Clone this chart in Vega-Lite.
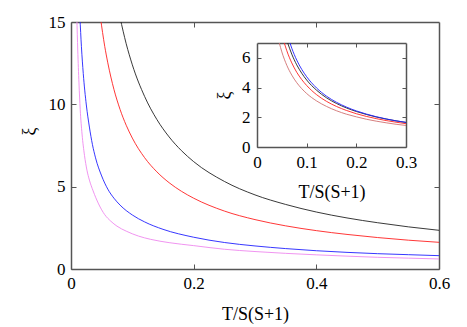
{
  "$schema": "https://vega.github.io/schema/vega-lite/v6.json",
  "width": 368,
  "height": 247,
  "autosize": {"type": "none"},
  "padding": {"left": 71, "top": 22, "right": 28, "bottom": 58},
  "background": "white",
  "config": {
    "view": {"stroke": null},
    "font": "Liberation Serif",
    "axis": {
      "grid": false,
      "domainColor": "#555555",
      "domainWidth": 1.5,
      "tickColor": "#555555",
      "tickWidth": 1,
      "labelFont": "Liberation Serif",
      "titleFont": "Liberation Serif",
      "labelFontSize": 17,
      "titleFontSize": 18,
      "labelColor": "#000000",
      "titleColor": "#000000",
      "titleFontWeight": "normal",
      "labelFlush": false,
      "labelOverlap": false
    }
  },
  "datasets": {
    "main": [
      {"s": "k", "T": 0.08, "xi": 15.26}, {"s": "k", "T": 0.09, "xi": 13.68}, {"s": "k", "T": 0.10, "xi": 12.40}, {"s": "k", "T": 0.12, "xi": 10.48}, {"s": "k", "T": 0.14, "xi": 9.08}, {"s": "k", "T": 0.16, "xi": 8.02}, {"s": "k", "T": 0.18, "xi": 7.19}, {"s": "k", "T": 0.20, "xi": 6.52}, {"s": "k", "T": 0.25, "xi": 5.32}, {"s": "k", "T": 0.30, "xi": 4.50}, {"s": "k", "T": 0.35, "xi": 3.92}, {"s": "k", "T": 0.40, "xi": 3.46}, {"s": "k", "T": 0.45, "xi": 3.10}, {"s": "k", "T": 0.50, "xi": 2.81}, {"s": "k", "T": 0.55, "xi": 2.56}, {"s": "k", "T": 0.60, "xi": 2.35},
      {"s": "r", "T": 0.048, "xi": 15.27}, {"s": "r", "T": 0.055, "xi": 13.52}, {"s": "r", "T": 0.06, "xi": 12.52}, {"s": "r", "T": 0.07, "xi": 10.91}, {"s": "r", "T": 0.08, "xi": 9.69}, {"s": "r", "T": 0.09, "xi": 8.73}, {"s": "r", "T": 0.10, "xi": 7.95}, {"s": "r", "T": 0.12, "xi": 6.76}, {"s": "r", "T": 0.14, "xi": 5.90}, {"s": "r", "T": 0.16, "xi": 5.24}, {"s": "r", "T": 0.18, "xi": 4.72}, {"s": "r", "T": 0.20, "xi": 4.30}, {"s": "r", "T": 0.25, "xi": 3.52}, {"s": "r", "T": 0.30, "xi": 3.00}, {"s": "r", "T": 0.35, "xi": 2.62}, {"s": "r", "T": 0.40, "xi": 2.33}, {"s": "r", "T": 0.45, "xi": 2.10}, {"s": "r", "T": 0.50, "xi": 1.91}, {"s": "r", "T": 0.55, "xi": 1.75}, {"s": "r", "T": 0.60, "xi": 1.62},
      {"s": "b", "T": 0.0145, "xi": 15.31}, {"s": "b", "T": 0.017, "xi": 13.50}, {"s": "b", "T": 0.02, "xi": 11.87}, {"s": "b", "T": 0.025, "xi": 9.96}, {"s": "b", "T": 0.03, "xi": 8.62}, {"s": "b", "T": 0.035, "xi": 7.55}, {"s": "b", "T": 0.04, "xi": 6.75}, {"s": "b", "T": 0.05, "xi": 5.65}, {"s": "b", "T": 0.06, "xi": 4.85}, {"s": "b", "T": 0.07, "xi": 4.30}, {"s": "b", "T": 0.08, "xi": 3.88}, {"s": "b", "T": 0.10, "xi": 3.28}, {"s": "b", "T": 0.12, "xi": 2.86}, {"s": "b", "T": 0.15, "xi": 2.41}, {"s": "b", "T": 0.20, "xi": 1.93}, {"s": "b", "T": 0.25, "xi": 1.61}, {"s": "b", "T": 0.30, "xi": 1.40}, {"s": "b", "T": 0.35, "xi": 1.24}, {"s": "b", "T": 0.40, "xi": 1.11}, {"s": "b", "T": 0.45, "xi": 1.01}, {"s": "b", "T": 0.50, "xi": 0.93}, {"s": "b", "T": 0.55, "xi": 0.87}, {"s": "b", "T": 0.60, "xi": 0.81},
      {"s": "v", "T": 0.0095, "xi": 15.3}, {"s": "v", "T": 0.011, "xi": 13.3}, {"s": "v", "T": 0.013, "xi": 11.3}, {"s": "v", "T": 0.015, "xi": 9.7}, {"s": "v", "T": 0.018, "xi": 8.2}, {"s": "v", "T": 0.022, "xi": 6.9}, {"s": "v", "T": 0.026, "xi": 6.0}, {"s": "v", "T": 0.03, "xi": 5.4}, {"s": "v", "T": 0.036, "xi": 4.75}, {"s": "v", "T": 0.045, "xi": 3.95}, {"s": "v", "T": 0.055, "xi": 3.3}, {"s": "v", "T": 0.065, "xi": 2.9}, {"s": "v", "T": 0.075, "xi": 2.6}, {"s": "v", "T": 0.09, "xi": 2.3}, {"s": "v", "T": 0.11, "xi": 2.0}, {"s": "v", "T": 0.13, "xi": 1.8}, {"s": "v", "T": 0.16, "xi": 1.6}, {"s": "v", "T": 0.20, "xi": 1.42}, {"s": "v", "T": 0.25, "xi": 1.2}, {"s": "v", "T": 0.30, "xi": 1.06}, {"s": "v", "T": 0.35, "xi": 0.95}, {"s": "v", "T": 0.40, "xi": 0.86}, {"s": "v", "T": 0.45, "xi": 0.78}, {"s": "v", "T": 0.50, "xi": 0.71}, {"s": "v", "T": 0.55, "xi": 0.66}, {"s": "v", "T": 0.60, "xi": 0.61}
    ],
    "inset": [
      {"s": "in", "T": 0.0449, "xi": 7}, {"s": "in", "T": 0.05, "xi": 6.40}, {"s": "in", "T": 0.06, "xi": 5.50}, {"s": "in", "T": 0.07, "xi": 4.84}, {"s": "in", "T": 0.08, "xi": 4.33}, {"s": "in", "T": 0.09, "xi": 3.93}, {"s": "in", "T": 0.10, "xi": 3.60}, {"s": "in", "T": 0.12, "xi": 3.10}, {"s": "in", "T": 0.14, "xi": 2.73}, {"s": "in", "T": 0.16, "xi": 2.44}, {"s": "in", "T": 0.18, "xi": 2.21}, {"s": "in", "T": 0.20, "xi": 2.03}, {"s": "in", "T": 0.22, "xi": 1.87}, {"s": "in", "T": 0.24, "xi": 1.74}, {"s": "in", "T": 0.26, "xi": 1.63}, {"s": "in", "T": 0.28, "xi": 1.53}, {"s": "in", "T": 0.30, "xi": 1.45},
      {"s": "ir", "T": 0.055, "xi": 7}, {"s": "ir", "T": 0.06, "xi": 6.48}, {"s": "ir", "T": 0.07, "xi": 5.66}, {"s": "ir", "T": 0.08, "xi": 5.03}, {"s": "ir", "T": 0.09, "xi": 4.54}, {"s": "ir", "T": 0.10, "xi": 4.14}, {"s": "ir", "T": 0.12, "xi": 3.52}, {"s": "ir", "T": 0.14, "xi": 3.07}, {"s": "ir", "T": 0.16, "xi": 2.73}, {"s": "ir", "T": 0.18, "xi": 2.46}, {"s": "ir", "T": 0.20, "xi": 2.24}, {"s": "ir", "T": 0.22, "xi": 2.06}, {"s": "ir", "T": 0.24, "xi": 1.91}, {"s": "ir", "T": 0.26, "xi": 1.78}, {"s": "ir", "T": 0.28, "xi": 1.67}, {"s": "ir", "T": 0.30, "xi": 1.57},
      {"s": "ik", "T": 0.0618, "xi": 7}, {"s": "ik", "T": 0.07, "xi": 6.25}, {"s": "ik", "T": 0.08, "xi": 5.53}, {"s": "ik", "T": 0.09, "xi": 4.97}, {"s": "ik", "T": 0.10, "xi": 4.51}, {"s": "ik", "T": 0.12, "xi": 3.82}, {"s": "ik", "T": 0.14, "xi": 3.31}, {"s": "ik", "T": 0.16, "xi": 2.93}, {"s": "ik", "T": 0.18, "xi": 2.63}, {"s": "ik", "T": 0.20, "xi": 2.39}, {"s": "ik", "T": 0.22, "xi": 2.19}, {"s": "ik", "T": 0.24, "xi": 2.02}, {"s": "ik", "T": 0.26, "xi": 1.88}, {"s": "ik", "T": 0.28, "xi": 1.76}, {"s": "ik", "T": 0.30, "xi": 1.65},
      {"s": "ib", "T": 0.0664, "xi": 7}, {"s": "ib", "T": 0.07, "xi": 6.65}, {"s": "ib", "T": 0.08, "xi": 5.85}, {"s": "ib", "T": 0.09, "xi": 5.23}, {"s": "ib", "T": 0.10, "xi": 4.73}, {"s": "ib", "T": 0.12, "xi": 3.97}, {"s": "ib", "T": 0.14, "xi": 3.42}, {"s": "ib", "T": 0.16, "xi": 3.01}, {"s": "ib", "T": 0.18, "xi": 2.69}, {"s": "ib", "T": 0.20, "xi": 2.43}, {"s": "ib", "T": 0.22, "xi": 2.22}, {"s": "ib", "T": 0.24, "xi": 2.04}, {"s": "ib", "T": 0.26, "xi": 1.89}, {"s": "ib", "T": 0.28, "xi": 1.76}, {"s": "ib", "T": 0.30, "xi": 1.66}
    ]
  },
  "layer": [
    {
      "data": {"name": "main"},
      "mark": {"type": "line", "strokeWidth": 0.9, "clip": true, "interpolate": "monotone"},
      "encoding": {
        "x": {"field": "T", "type": "quantitative", "scale": {"domain": [0, 0.6], "nice": false, "zero": false},
          "axis": {"orient": "bottom", "values": [0, 0.2, 0.4, 0.6], "format": "~g", "tickSize": -5, "labelPadding": 11, "labelFont": "Liberation Serif", "titleFont": "Liberation Serif", "title": "T/S(S+1)", "titleBaseline": "alphabetic", "titleY": 50}},
        "y": {"field": "xi", "type": "quantitative", "scale": {"domain": [0, 15], "nice": false, "zero": false},
          "axis": {"orient": "left", "values": [0, 5, 10, 15], "tickSize": -5, "labelPadding": 11, "labelFont": "Liberation Serif", "titleFont": "Liberation Serif", "title": "ξ", "titleAngle": 270, "titleBaseline": "alphabetic", "titleX": -37, "titleY": 109}},
        "color": {"field": "s", "type": "nominal", "legend": null,
          "scale": {"domain": ["k", "r", "b", "v", "in", "ir", "ik", "ib"], "range": ["#222222", "#ff2020", "#2020ff", "#ee88ee", "#d07070", "#ff2020", "#222222", "#2020ff"]}}
      }
    },
    {
      "data": {"name": "main"},
      "mark": {"type": "line", "opacity": 0},
      "encoding": {
        "x": {"field": "T", "type": "quantitative", "scale": {"domain": [0, 0.6], "nice": false, "zero": false},
          "axis": {"orient": "top", "values": [0.2, 0.4], "labels": false, "tickSize": -5, "title": null}},
        "y": {"field": "xi", "type": "quantitative", "scale": {"domain": [0, 15], "nice": false, "zero": false},
          "axis": {"orient": "right", "values": [5, 10], "labels": false, "tickSize": -5, "title": null}}
      }
    },
    {
      "data": {"name": "inset"},
      "mark": {"type": "line", "strokeWidth": 0.9, "interpolate": "monotone"},
      "encoding": {
        "x": {"field": "T", "type": "quantitative", "scale": {"domain": [0, 0.3], "range": [186, 335], "nice": false, "zero": false},
          "axis": {"orient": "bottom", "offset": -122, "values": [0, 0.1, 0.2, 0.3], "format": "~g", "tickSize": -4, "labelPadding": 11, "labelFont": "Liberation Serif", "titleFont": "Liberation Serif", "title": "T/S(S+1)", "titleBaseline": "alphabetic", "titleY": 50}},
        "y": {"field": "xi", "type": "quantitative", "scale": {"domain": [0, 7], "range": [125, 21], "nice": false, "zero": false},
          "axis": {"orient": "left", "offset": -186, "values": [0, 2, 4, 6], "tickSize": -4, "labelPadding": 11, "labelFont": "Liberation Serif", "titleFont": "Liberation Serif", "title": "ξ", "titleAngle": 270, "titleBaseline": "alphabetic", "titleX": -28}},
        "color": {"field": "s", "type": "nominal", "legend": null,
          "scale": {"domain": ["k", "r", "b", "v", "in", "ir", "ik", "ib"], "range": ["#222222", "#ff2020", "#2020ff", "#ee88ee", "#d07070", "#ff2020", "#222222", "#2020ff"]}}
      }
    },
    {
      "data": {"name": "inset"},
      "mark": {"type": "line", "opacity": 0},
      "encoding": {
        "x": {"field": "T", "type": "quantitative", "scale": {"domain": [0, 0.3], "range": [186, 335], "nice": false, "zero": false},
          "axis": {"orient": "top", "offset": -21, "values": [0.1, 0.2], "labels": false, "tickSize": -4, "title": null}},
        "y": {"field": "xi", "type": "quantitative", "scale": {"domain": [0, 7], "range": [125, 21], "nice": false, "zero": false},
          "axis": {"orient": "right", "offset": -33, "values": [2, 4, 6], "labels": false, "tickSize": -4, "title": null}}
      }
    }
  ],
  "resolve": {"scale": {"x": "independent", "y": "independent"}, "axis": {"x": "independent", "y": "independent"}}
}
